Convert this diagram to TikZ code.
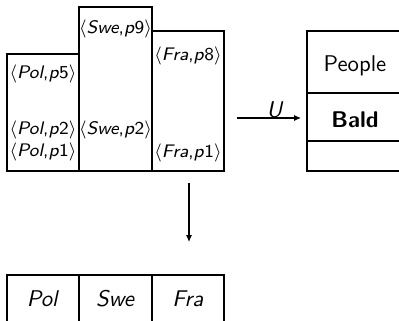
\documentclass[tikz,border=0pt]{standalone}
\usetikzlibrary{arrows.meta}
\renewcommand{\familydefault}{\sfdefault}
\newcommand{\tup}[2]{$\langle$\textit{#1},\textit{p}#2$\rangle$}
\begin{document}
\begin{tikzpicture}[x=0.44pt, y=-0.44pt,
  box/.style={draw, line width=0.45pt, inner sep=0pt, outer sep=0pt},
  tupl/.style={font=\footnotesize, inner sep=0pt},
  arr/.style={line width=0.45pt, -{Latex[length=3pt,width=2.6pt]}}]
\useasboundingbox (0,0) rectangle (399,321);
\clip (0,0) rectangle (399,321);

% partitioned relation: one column per country
\node[box, minimum width={72*0.44pt}, minimum height={117*0.44pt}] (pol) at (43,112.5) {};
\node[box, minimum width={73*0.44pt}, minimum height={164*0.44pt}] (swe) at (115.5,89) {};
\node[box, minimum width={72*0.44pt}, minimum height={140*0.44pt}] (fra) at (188,101) {};

\node[tupl] (pol5) at (43,74) {\tup{Pol}{5}};
\node[tupl] (pol2) at (43,130) {\tup{Pol}{2}};
\node[tupl] (pol1) at (43,152) {\tup{Pol}{1}};
\node[tupl] (swe9) at (115.5,29) {\tup{Swe}{9}};
\node[tupl] (swe2) at (115.5,130) {\tup{Swe}{2}};
\node[tupl] (fra8) at (188,56) {\tup{Fra}{8}};
\node[tupl] (fra1) at (188,153) {\tup{Fra}{1}};

% target table
\node[box, minimum width={96*0.44pt}, minimum height={62*0.44pt}] (people) at (355,62) {};
\node[box, minimum width={96*0.44pt}, minimum height={48*0.44pt}] (bald) at (355,117) {};
\node[box, minimum width={96*0.44pt}, minimum height={30*0.44pt}] (empty) at (355,156) {};
\node (tpeople) at (355,65.5) {People};
\node[font=\bfseries] (tbald) at (355,119.5) {Bald};

% key table
\node[box, minimum width={72*0.44pt}, minimum height={60*0.44pt}, anchor=north] (kpol) at (43,275) {};
\node[box, minimum width={73*0.44pt}, minimum height={60*0.44pt}, anchor=north] (kswe) at (115.5,275) {};
\node[box, minimum width={72*0.44pt}, minimum height={60*0.44pt}, anchor=north] (kfra) at (188,275) {};
\node (tpol) at (43,299) {\textit{Pol}};
\node (tswe) at (115.5,299) {\textit{Swe}};
\node (tfra) at (188,299) {\textit{Fra}};

% connectors
\coordinate (ustart) at (237,118);
\draw[arr, shorten >=6*0.44pt] (ustart) -- (ustart -| bald.west)
  node[midway, above, inner sep=0pt, xshift=1.3pt, yshift=-0.3pt] (ulab) {\textit{U}};
\coordinate (dstart) at (189,183);
\coordinate (dend) at (189,242);
\draw[arr] (dstart) -- (dend);
\end{tikzpicture}
\end{document}
